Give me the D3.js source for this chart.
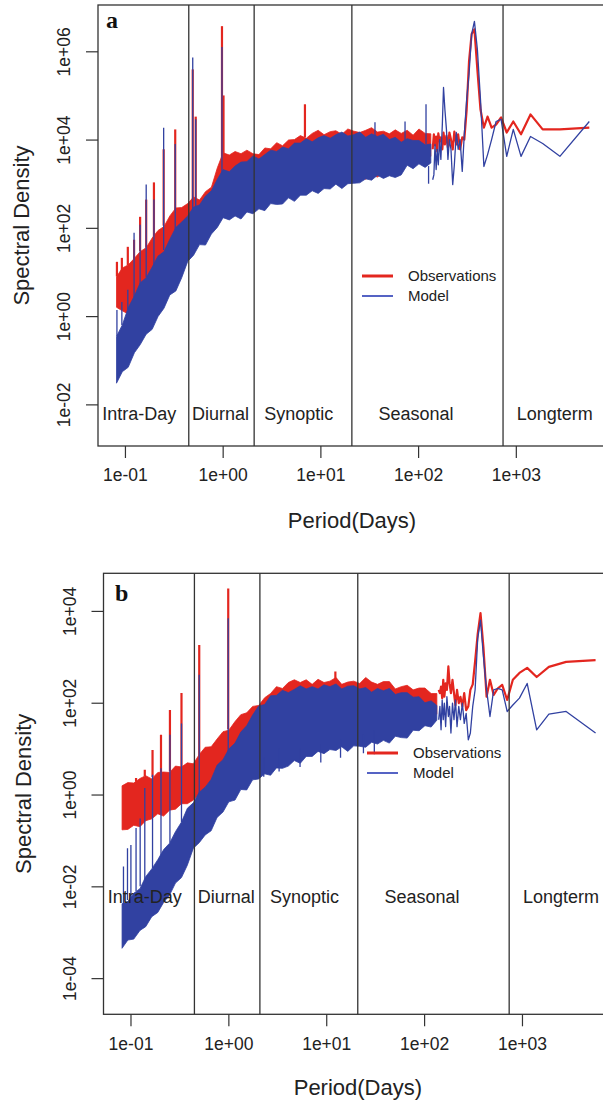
<!DOCTYPE html>
<html lang="en">
<head>
  <meta charset="UTF-8">
  <title>Spectral density: observations vs model</title>
  <script src="https://d3js.org/d3.v7.min.js"></script>
  <style>
    body {
      margin: 0;
      background: #fff;
    }
    svg {
      display: block;
      font-family: "Liberation Sans", Arial, sans-serif;
    }
    .axis path.domain {
      display: none;
    }
    .axis line {
      stroke: #333;
      stroke-width: 1.2px;
    }
    .axis text {
      fill: #222;
      font-size: 17.5px;
      font-family: "Liberation Sans", Arial, sans-serif;
    }
    .region-label {
      fill: #222;
      font-size: 18px;
    }
    .legend-text {
      fill: #222;
      font-size: 15px;
    }
    .axis-title {
      fill: #222;
      font-size: 22px;
    }
    .panel-letter {
      font-family: "Liberation Serif", "DejaVu Serif", serif;
      font-weight: bold;
      font-size: 24px;
      fill: #111;
    }
  </style>
</head>
<body>
  <svg id="chart" width="603" height="1101"></svg>

  <script>
    // ---- shared axis data ----
    const xDomain = [0.053, 9200];
    const xTicks = [0.1, 1, 10, 100, 1000];
    const xTickLabels = ["1e-01", "1e+00", "1e+01", "1e+02", "1e+03"];

    // time-scale boundaries (days) and their names
    const regionBreaks = [0.45, 2.1, 21, 740];
    const regionNames = ["Intra-Day", "Diurnal", "Synoptic", "Seasonal", "Longterm"];
    const regionLabelPeriods = [0.14, 0.95, 6, 95, 2500];
    const regionLabelLevel = 0.006;

    const seriesNames = ["Observations", "Model"];

    // dense part of the spectrum: periods (days) where the noisy band edges were read
    const periodGrid = [0.082, 0.094, 0.108, 0.125, 0.143, 0.165, 0.19, 0.218, 0.251, 0.288,
      0.332, 0.381, 0.439, 0.504, 0.58, 0.667, 0.767, 0.882, 1.01, 1.17,
      1.34, 1.54, 1.77, 2.04, 2.35, 2.7, 3.1, 3.57, 4.1, 4.72,
      5.43, 6.24, 7.18, 8.25, 9.49, 10.9, 12.6, 14.4, 16.6, 19.1,
      22.0, 25.3, 29.1, 33.4, 38.4, 44.2, 50.8, 58.4, 67.2, 77.3,
      88.9, 102, 118, 135];

    // sparse low-frequency end: periods (days) of the individual spectral estimates
    const tailPeriods = [5650, 2825, 1883, 1413, 1130, 942, 807, 706, 628, 565,
      514, 471, 435, 404, 377, 353, 332, 314, 297, 283,
      269, 257, 246, 235, 226, 217, 209, 202, 195, 188,
      182, 177, 171, 166, 161, 157, 153, 149, 145, 141];

    // ---- panel a (log10 spectral density) ----
    const aYTicks = [1e-2, 1, 1e2, 1e4, 1e6];
    const aYTickLabels = ["1e-02", "1e+00", "1e+02", "1e+04", "1e+06"];

    const aObsHi = [0.89, 1.09, 1.16, 1.31, 1.46, 1.55, 1.77, 1.94, 2.03, 2.27,
      2.45, 2.46, 2.55, 2.7, 2.63, 2.82, 2.92, 3.36, 3.7, 3.65,
      3.73, 3.68, 3.76, 3.68, 3.66, 3.81, 3.79, 3.93, 3.86, 3.99,
      4.0, 4.09, 4.03, 4.14, 4.21, 4.11, 4.18, 4.2, 4.12, 4.24,
      4.19, 4.16, 4.21, 4.27, 4.17, 4.19, 4.13, 4.22, 4.14, 4.21,
      4.1, 4.24, 4.14, 4.13];
    const aObsLo = [0.2, 0.12, 0.05, 0.12, 0.3, 0.38, 0.6, 0.7, 0.9, 1.05,
      1.2, 1.4, 1.6, 1.8, 1.9, 2.0, 2.1, 2.3, 2.4, 2.5,
      2.45, 2.55, 2.5, 2.6, 2.55, 2.65, 2.6, 2.7, 2.68, 2.78,
      2.75, 2.85, 2.8, 2.92, 2.88, 2.98, 2.95, 3.05, 3.0, 3.1,
      3.05, 3.15, 3.1, 3.2, 3.15, 3.25, 3.2, 3.3, 3.35, 3.45,
      3.5, 3.6, 3.55, 3.62];
    const aModHi = [-0.46, -0.2, 0.19, 0.46, 0.75, 0.87, 1.11, 1.36, 1.46, 1.74,
      2.01, 2.13, 2.27, 2.47, 2.52, 2.72, 2.84, 3.1, 3.32, 3.27,
      3.4, 3.49, 3.5, 3.63, 3.56, 3.66, 3.76, 3.73, 3.83, 3.79,
      3.92, 3.92, 4.02, 3.95, 4.04, 4.09, 4.03, 4.11, 4.17, 4.08,
      4.11, 4.17, 4.05, 4.13, 4.07, 4.12, 4.0, 4.05, 3.94, 4.02,
      3.98, 3.98, 3.88, 3.9];
    const aModLo = [-1.52, -1.26, -1.16, -0.83, -0.65, -0.41, -0.3, -0.01, 0.18, 0.48,
      0.57, 0.87, 1.24, 1.38, 1.62, 1.61, 1.86, 2.01, 2.23, 2.18,
      2.27, 2.2, 2.36, 2.32, 2.43, 2.39, 2.55, 2.53, 2.54, 2.68,
      2.6, 2.74, 2.74, 2.84, 2.78, 2.89, 2.88, 2.99, 2.89, 3.0,
      3.01, 3.02, 3.11, 3.08, 3.19, 3.12, 3.18, 3.14, 3.2, 3.42,
      3.34, 3.45, 3.37, 3.47];
    const aObsTail = [4.27, 4.23, 4.23, 4.57, 4.12, 4.41, 4.16, 4.5, 4.34, 4.27,
      4.52, 4.27, 4.68, 5.59, 6.5, 6.39, 5.77, 4.68, 4.0, 4.05,
      3.78, 4.12, 3.89, 4.18, 3.78, 4.0, 4.16, 3.82, 4.09, 3.89,
      4.16, 3.78, 4.05, 3.96, 4.14, 3.73, 4.07, 3.87, 4.12, 3.78];
    const aModTail = [4.41, 3.62, 3.91, 4.07, 3.62, 4.23, 3.62, 4.46, 4.41, 4.0,
      3.66, 3.39, 4.91, 6.05, 6.68, 6.39, 5.48, 4.91, 4.12, 3.28,
      4.0, 3.78, 4.16, 3.43, 2.98, 3.78, 4.0, 3.55, 4.23, 4.68,
      5.18, 4.34, 3.55, 4.0, 3.43, 3.78, 3.32, 3.89, 3.2, 3.09];
    // isolated peaks: [period, log10 from, log10 to]
    const aObsSpikes = [[0.0828, 0.9, 1.23], [0.093, 1.0, 1.32], [0.107, 1.15, 1.57],
      [0.124, 1.2, 1.73], [0.143, 1.47, 2.25], [0.165, 1.55, 2.64], [0.198, 1.75, 3.03],
      [0.249, 2.05, 3.78], [0.327, 2.35, 4.23], [0.494, 2.55, 5.59], [0.53, 2.6, 4.52],
      [0.984, 3.3, 6.57], [1.02, 3.6, 5.0], [6.95, 4.05, 4.8]];
    const aModSpikes = [[0.0828, -0.45, 0.14], [0.093, -0.2, 0.32], [0.107, 0.15, 0.6],
      [0.124, 0.42, 1.89], [0.143, 0.7, 2.07], [0.165, 0.88, 2.98], [0.198, 1.15, 2.64],
      [0.249, 1.5, 4.27], [0.327, 1.95, 3.9], [0.494, 2.4, 5.86], [0.53, 2.45, 4.46],
      [0.984, 3.2, 6.1], [36.2, 4.05, 4.39], [73.5, 3.9, 4.41], [120.5, 3.9, 4.8],
      [128, 3.4, 3.0]];

    // ---- panel b (log10 spectral density) ----
    const bYTicks = [1e-4, 1e-2, 1, 1e2, 1e4];
    const bYTickLabels = ["1e-04", "1e-02", "1e+00", "1e+02", "1e+04"];

    const bObsHi = [0.19, 0.26, 0.25, 0.35, 0.41, 0.34, 0.48, 0.49, 0.48, 0.62,
      0.6, 0.69, 0.67, 0.87, 1.03, 1.04, 1.21, 1.37, 1.4, 1.59,
      1.74, 1.78, 1.92, 1.94, 2.11, 2.2, 2.35, 2.31, 2.44, 2.5,
      2.44, 2.5, 2.4, 2.51, 2.44, 2.47, 2.55, 2.4, 2.45, 2.47,
      2.42, 2.55, 2.45, 2.4, 2.46, 2.46, 2.3, 2.35, 2.38, 2.28,
      2.32, 2.32, 2.2, 2.2];
    const bObsLo = [-0.77, -0.76, -0.67, -0.7, -0.57, -0.53, -0.42, -0.47, -0.34, -0.32,
      -0.2, -0.2, -0.12, 0.0, 0.15, 0.3, 0.4, 0.55, 0.65, 0.8,
      0.95, 1.05, 1.15, 1.25, 1.35, 1.45, 1.5, 1.55, 1.6, 1.62,
      1.65, 1.68, 1.7, 1.72, 1.75, 1.75, 1.78, 1.8, 1.8, 1.82,
      1.82, 1.85, 1.85, 1.85, 1.85, 1.85, 1.85, 1.8, 1.8, 1.8,
      1.8, 1.8, 1.8, 1.75];
    const bModHi = [-2.38, -2.33, -2.15, -2.05, -1.79, -1.62, -1.42, -1.2, -1.06, -0.81,
      -0.6, -0.3, -0.18, 0.05, 0.16, 0.33, 0.64, 0.76, 0.99, 1.12,
      1.36, 1.5, 1.73, 1.93, 1.96, 2.15, 2.16, 2.27, 2.22, 2.29,
      2.37, 2.3, 2.35, 2.3, 2.39, 2.35, 2.41, 2.3, 2.36, 2.37,
      2.3, 2.33, 2.23, 2.31, 2.26, 2.31, 2.18, 2.22, 2.22, 2.12,
      2.13, 2.0, 2.04, 1.94];
    const bModLo = [-3.35, -3.17, -3.15, -2.96, -2.88, -2.66, -2.57, -2.35, -2.19, -1.93,
      -1.81, -1.54, -1.17, -1.05, -0.88, -0.79, -0.5, -0.38, -0.16, -0.12,
      0.11, 0.1, 0.32, 0.34, 0.45, 0.42, 0.58, 0.57, 0.62, 0.74,
      0.68, 0.83, 0.83, 0.94, 0.89, 0.98, 0.96, 1.04, 0.94, 1.06,
      1.05, 1.03, 1.14, 1.1, 1.18, 1.12, 1.27, 1.24, 1.23, 1.4,
      1.39, 1.5, 1.47, 1.62];
    const bObsTail = [2.93, 2.89, 2.78, 2.56, 2.76, 2.65, 2.5, 2.06, 2.39, 2.31,
      2.17, 2.5, 2.13, 3.2, 3.95, 3.5, 2.9, 2.4, 2.28, 1.92,
      1.84, 2.21, 1.92, 2.13, 1.99, 2.28, 1.95, 2.21, 2.5, 2.21,
      2.42, 2.79, 2.28, 2.42, 2.13, 2.5, 2.1, 2.35, 2.21, 2.28];
    const bModTail = [1.34, 1.81, 1.75, 1.41, 2.42, 2.1, 1.95, 1.81, 2.28, 2.31,
      2.28, 1.7, 2.28, 3.0, 3.8, 3.4, 2.28, 1.92, 1.34, 1.19,
      1.77, 1.55, 1.99, 1.63, 1.92, 1.48, 2.06, 1.63, 1.99, 1.34,
      1.92, 1.7, 2.13, 1.48, 1.99, 1.63, 2.06, 1.41, 1.92, 1.63];
    const bObsSpikes = [[0.114, 0.28, 0.36], [0.14, 0.4, 0.54], [0.168, 0.38, 0.97],
      [0.205, 0.45, 1.3], [0.253, 0.5, 1.84], [0.332, 0.6, 2.21], [0.504, 0.82, 3.26],
      [0.997, 1.42, 4.49], [12.4, 2.4, 2.68]];
    const bModSpikes = [[0.0848, -2.4, -1.57], [0.0932, -2.3, -1.17], [0.101, -2.25, -1.1],
      [0.114, -2.1, -0.73], [0.1256, -2.0, -0.52], [0.14, -1.9, 0.14], [0.168, -1.6, 0.43],
      [0.205, -1.35, 0.57], [0.253, -1.05, 1.3], [0.332, -0.6, 1.55], [0.504, 0.0, 2.61],
      [0.997, 0.9, 3.84], [2.3, 0.8, 0.39], [3.3, 1.0, 0.5], [5.4, 1.0, 0.6],
      [8.8, 1.1, 0.7], [14, 1.2, 0.8], [24, 1.3, 0.9], [31, 1.4, 0.88]];

    const obsColor = "#e3261f";
    const modColor = "#3141a1";

    const panels = [
      {
        id: "a", left: 98, right: 610, top: 5, bottom: 446,
        yDomain: [1.14e-3, 1.12e7], yTicks: aYTicks, yTickLabels: aYTickLabels,
        obs: { hi: aObsHi, lo: aObsLo, tail: aObsTail, spikes: aObsSpikes },
        mod: { hi: aModHi, lo: aModLo, tail: aModTail, spikes: aModSpikes },
        letter: [106, 28], yTitleX: 29, xTitleY: 528, legend: [362, 276]
      },
      {
        id: "b", left: 103.5, right: 616.3, top: 573.3, bottom: 1014.3,
        yDomain: [1.63e-5, 6.6e4], yTicks: bYTicks, yTickLabels: bYTickLabels,
        obs: { hi: bObsHi, lo: bObsLo, tail: bObsTail, spikes: bObsSpikes },
        mod: { hi: bModHi, lo: bModLo, tail: bModTail, spikes: bModSpikes },
        letter: [115, 601], yTitleX: 31, xTitleY: 1095, legend: [367, 753]
      }
    ];

    const svg = d3.select("#chart");

    panels.forEach(drawPanel);

    function drawPanel(p) {
      const x = d3.scaleLog().domain(xDomain).range([p.left, p.right]);
      const y = d3.scaleLog().domain(p.yDomain).range([p.bottom, p.top]);
      const g = svg.append("g").attr("class", "panel-" + p.id);

      g.append("clipPath").attr("id", "clip-" + p.id)
        .append("rect")
        .attr("x", p.left).attr("y", p.top)
        .attr("width", p.right - p.left).attr("height", p.bottom - p.top);

      const plot = g.append("g").attr("clip-path", `url(#clip-${p.id})`);

      // observations first, model drawn over it
      drawSeries(plot, x, y, p.obs, obsColor, 2.2);
      drawSeries(plot, x, y, p.mod, modColor, 1.3);

      // time-scale separators
      g.append("g").selectAll("line")
        .data(regionBreaks)
        .join("line")
        .attr("x1", d => x(d)).attr("x2", d => x(d))
        .attr("y1", p.top).attr("y2", p.bottom)
        .attr("stroke", "#333")
        .attr("stroke-width", 1.3);

      g.append("g").selectAll("text")
        .data(regionNames)
        .join("text")
        .attr("class", "region-label")
        .attr("x", (d, i) => x(regionLabelPeriods[i]))
        .attr("y", y(regionLabelLevel))
        .attr("dy", "0.35em")
        .attr("text-anchor", "middle")
        .text(d => d);

      // frame
      g.append("rect")
        .attr("x", p.left).attr("y", p.top)
        .attr("width", p.right - p.left).attr("height", p.bottom - p.top)
        .attr("fill", "none")
        .attr("stroke", "#333")
        .attr("stroke-width", 1.3);

      // axes
      const xAxis = d3.axisBottom(x)
        .tickValues(xTicks)
        .tickFormat((d, i) => xTickLabels[i])
        .tickSize(12)
        .tickPadding(11);
      g.append("g")
        .attr("class", "axis")
        .attr("transform", `translate(0,${p.bottom})`)
        .call(xAxis);

      const yAxis = d3.axisLeft(y)
        .tickValues(p.yTicks)
        .tickFormat((d, i) => p.yTickLabels[i])
        .tickSize(12);
      const yg = g.append("g")
        .attr("class", "axis")
        .attr("transform", `translate(${p.left},0)`)
        .call(yAxis);
      yg.selectAll(".tick text")
        .attr("x", 0)
        .attr("dy", null)
        .attr("text-anchor", "middle")
        .attr("transform", "translate(-28,0) rotate(-90)");

      // titles
      g.append("text")
        .attr("class", "axis-title")
        .attr("text-anchor", "middle")
        .attr("transform", `translate(${p.yTitleX},${(p.top + p.bottom) / 2}) rotate(-90)`)
        .text("Spectral Density");

      g.append("text")
        .attr("class", "axis-title")
        .attr("x", (p.left + p.right) / 2 - 2)
        .attr("y", p.xTitleY)
        .attr("text-anchor", "middle")
        .text("Period(Days)");

      g.append("text")
        .attr("class", "panel-letter")
        .attr("x", p.letter[0])
        .attr("y", p.letter[1])
        .text(p.id);

      // legend (no box, like R's bty = "n")
      const leg = g.append("g")
        .attr("transform", `translate(${p.legend[0]},${p.legend[1]})`);
      const legRows = leg.selectAll("g")
        .data(seriesNames)
        .join("g")
        .attr("transform", (d, i) => `translate(0,${i * 20})`);
      legRows.append("line")
        .attr("x1", 0).attr("x2", 31)
        .attr("stroke", (d, i) => i === 0 ? obsColor : "#5563c4")
        .attr("stroke-width", (d, i) => i === 0 ? 3 : 2);
      legRows.append("text")
        .attr("class", "legend-text")
        .attr("x", 46)
        .attr("dy", "0.35em")
        .text(d => d);
    }

    function drawSeries(plot, x, y, s, color, width) {
      const band = d3.area()
        .x((d, i) => x(periodGrid[i]))
        .y0((d, i) => y(10 ** s.lo[i]))
        .y1((d, i) => y(10 ** s.hi[i]));

      plot.append("path")
        .datum(s.hi)
        .attr("d", band)
        .attr("fill", color)
        .attr("stroke", color)
        .attr("stroke-width", 0.8)
        .attr("stroke-linejoin", "round");

      plot.append("g").selectAll("line")
        .data(s.spikes)
        .join("line")
        .attr("x1", d => x(d[0])).attr("x2", d => x(d[0]))
        .attr("y1", d => y(10 ** d[1]))
        .attr("y2", d => y(10 ** d[2]))
        .attr("stroke", color)
        .attr("stroke-width", width);

      const tailLine = d3.line()
        .x((d, i) => x(tailPeriods[i]))
        .y(d => y(10 ** d));

      plot.append("path")
        .datum(s.tail)
        .attr("d", tailLine)
        .attr("fill", "none")
        .attr("stroke", color)
        .attr("stroke-width", width)
        .attr("stroke-linejoin", "round");
    }
  </script>
</body>
</html>
